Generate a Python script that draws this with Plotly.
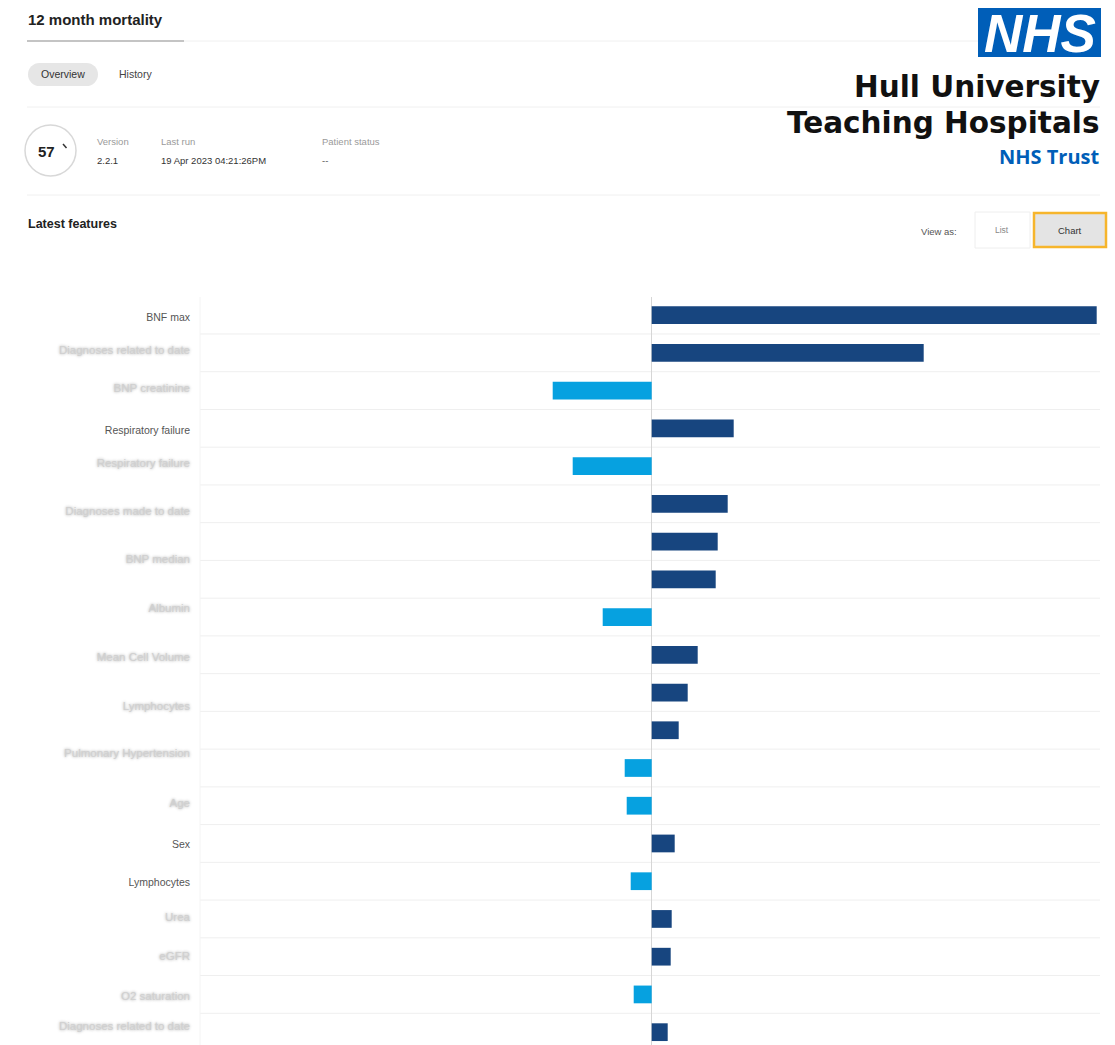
import plotly.graph_objects as go

# ---------------- data ----------------
bar_values = [4.45, 2.72, -0.99, 0.82, -0.79, 0.76, 0.66, 0.64, -0.49, 0.46,
              0.36, 0.27, -0.27, -0.25, 0.23, -0.21, 0.20, 0.19, -0.18, 0.16]

feature_labels = ["BNF max", "Diagnoses related to date", "BNP creatinine",
                  "Respiratory failure", "Respiratory failure", "Diagnoses made to date",
                  "BNP median", "Albumin", "Mean Cell Volume", "Lymphocytes",
                  "Pulmonary Hypertension", "Age", "Sex", "Lymphocytes", "Urea",
                  "eGFR", "O2 saturation", "Diagnoses related to date"]
label_blurred = [False, True, True, False, True, True, True, True, True, True,
                 True, True, False, False, True, True, True, True]

# ---------------- layout helpers ----------------
W, H = 1115, 1045
def px(x):
    return x / W
def py(y):
    return 1 - y / H

PLOT_L, PLOT_R, PLOT_T = 200, 1100, 297
label_rows = [0.05, 0.93, 1.93, 3.05, 3.91, 5.18, 6.46, 7.76, 9.05, 10.36,
              11.6, 12.93, 14.01, 15.04, 15.95, 16.98, 18.04, 18.83]

DARK = "#17457f"
LIGHT = "#06a1e0"
NHS_BLUE = "#005eb8"

rows = list(range(len(bar_values)))
colors = [DARK if v >= 0 else LIGHT for v in bar_values]

fig = go.Figure()
fig.add_trace(go.Bar(
    x=bar_values, y=rows, orientation="h", width=0.47,
    marker=dict(color=colors, line=dict(width=0)),
    hoverinfo="x",
))
# empty helper trace so that the overlay axis (blurred labels) is drawn
fig.add_trace(go.Scatter(x=[], y=[], yaxis="y2", showlegend=False,
                         hoverinfo="skip"))

clear_vals = [r for r, b in zip(label_rows, label_blurred) if not b]
clear_text = [t for t, b in zip(feature_labels, label_blurred) if not b]
blur_vals = [r for r, b in zip(label_rows, label_blurred) if b]
blur_text = [t for t, b in zip(feature_labels, label_blurred) if b]

Y_RANGE = [19.34, -0.48]

fig.update_layout(
    width=W, height=H,
    margin=dict(l=0, r=0, t=0, b=0),
    paper_bgcolor="white", plot_bgcolor="white",
    showlegend=False,
    font=dict(family="Liberation Sans, Arial, sans-serif", color="#333"),
    xaxis=dict(domain=[px(PLOT_L), px(PLOT_R)], range=[-4.517, 4.483],
               showgrid=False, zeroline=True, zerolinecolor="#d6d6d6",
               zerolinewidth=1, showticklabels=False, ticks="", fixedrange=True),
    yaxis=dict(domain=[0, py(PLOT_T)], range=Y_RANGE,
               tickmode="array", tickvals=clear_vals, ticktext=clear_text,
               tickfont=dict(size=10.5, color="#555"), ticks="",
               ticklabelstandoff=9, showgrid=False, zeroline=False,
               showline=False, automargin=False, fixedrange=True),
    yaxis2=dict(overlaying="y", side="left", range=Y_RANGE,
                tickmode="array", tickvals=blur_vals, ticktext=blur_text,
                tickfont=dict(size=11.5, color="#d0d0d0",
                              shadow="0px 0px 3px #9a9a9a"),
                ticks="", ticklabelstandoff=9, showgrid=False, zeroline=False,
                showline=False, automargin=False, fixedrange=True),
)

shapes = []
# row separators
for i in range(len(bar_values) + 1):
    shapes.append(dict(type="line", xref="paper", yref="y",
                       x0=px(PLOT_L), x1=px(PLOT_R), y0=i - 0.5, y1=i - 0.5,
                       line=dict(color="#efefef", width=1), layer="below"))
# faint left border of the chart
shapes.append(dict(type="line", xref="paper", yref="paper",
                   x0=px(PLOT_L), x1=px(PLOT_L), y0=0, y1=py(PLOT_T),
                   line=dict(color="#f4f4f4", width=1), layer="below"))

# header lines and widgets
shapes += [
    dict(type="line", xref="paper", yref="paper", x0=px(184), x1=px(1100),
         y0=py(41), y1=py(41), line=dict(color="#f0f0f0", width=1)),
    dict(type="line", xref="paper", yref="paper", x0=px(27), x1=px(184),
         y0=py(41), y1=py(41), line=dict(color="#c4c4c4", width=2)),
    dict(type="line", xref="paper", yref="paper", x0=px(27), x1=px(1100),
         y0=py(107), y1=py(107), line=dict(color="#f0f0f0", width=1)),
    dict(type="line", xref="paper", yref="paper", x0=px(27), x1=px(1100),
         y0=py(195), y1=py(195), line=dict(color="#f0f0f0", width=1)),
    # Overview pill
    dict(type="rect", xref="paper", yref="paper", x0=px(39), x1=px(87),
         y0=py(86), y1=py(63), fillcolor="#e6e6e6", line=dict(width=0)),
    dict(type="circle", xref="paper", yref="paper", x0=px(28), x1=px(51),
         y0=py(86), y1=py(63), fillcolor="#e6e6e6", line=dict(width=0)),
    dict(type="circle", xref="paper", yref="paper", x0=px(75), x1=px(98),
         y0=py(86), y1=py(63), fillcolor="#e6e6e6", line=dict(width=0)),
    # score circle
    dict(type="circle", xref="paper", yref="paper", x0=px(25), x1=px(76),
         y0=py(176), y1=py(125), fillcolor="white",
         line=dict(color="#d8d8d8", width=1.5)),
    dict(type="line", xref="paper", yref="paper", x0=px(63), x1=px(66.5),
         y0=py(144), y1=py(148), line=dict(color="#333", width=1.5)),
    # view-as buttons
    dict(type="rect", xref="paper", yref="paper", x0=px(975), x1=px(1030),
         y0=py(248), y1=py(212), fillcolor="white",
         line=dict(color="#eeeeee", width=1)),
    dict(type="rect", xref="paper", yref="paper", x0=px(1034), x1=px(1106),
         y0=py(247), y1=py(213), fillcolor="#e4e4e4",
         line=dict(color="#f6b52c", width=2.5)),
    # NHS logo box
    dict(type="rect", xref="paper", yref="paper", x0=px(978), x1=px(1101),
         y0=py(57), y1=py(8), fillcolor=NHS_BLUE, line=dict(width=0)),
]
fig.update_layout(shapes=shapes)

def txt(x, y, s, size, color="#333", anchor="left", bold=False, family=None,
        italic=False):
    if bold:
        s = f"<b>{s}</b>"
    if italic:
        s = f"<i>{s}</i>"
    d = dict(xref="paper", yref="paper", x=px(x), y=py(y), text=s,
             showarrow=False, xanchor=anchor, yanchor="middle", borderpad=0,
             font=dict(size=size, color=color))
    if family:
        d["font"]["family"] = family
    return d

ann = [
    txt(27, 19, "12 month mortality", 15, "#222", bold=True),
    txt(63, 74, "Overview", 10.5, "#333", anchor="center"),
    txt(118, 74, "History", 10.5, "#444"),
    txt(46, 151, "57", 15, "#222", anchor="center", bold=True),
    txt(96, 141, "Version", 9.5, "#9a9a9a"),
    txt(96, 160, "2.2.1", 9.5, "#333"),
    txt(160, 141, "Last run", 9.5, "#9a9a9a"),
    txt(160, 160, "19 Apr 2023 04:21:26PM", 9.5, "#333"),
    txt(321, 141, "Patient status", 9.5, "#9a9a9a"),
    txt(321, 160, "--", 9.5, "#555"),
    txt(27, 224, "Latest features", 12.5, "#222", bold=True),
    txt(958, 231, "View as:", 9.5, "#555", anchor="right"),
    txt(1002, 230, "List", 8.5, "#888", anchor="center"),
    txt(1070, 230, "Chart", 9.5, "#333", anchor="center"),
    txt(1040, 34, "NHS", 53, "white", anchor="center", bold=True, italic=True,
        family="Liberation Sans, Arial"),
    txt(1101, 87, "Hull University", 29.5, "#111", anchor="right", bold=True,
        family="DejaVu Sans"),
    txt(1101, 123, "Teaching Hospitals", 29.5, "#111", anchor="right", bold=True,
        family="DejaVu Sans"),
    txt(1101, 157, "NHS Trust", 20, NHS_BLUE, anchor="right", bold=True,
        family="Open Sans"),
]
fig.update_layout(annotations=ann)

fig.write_html("out.html")
